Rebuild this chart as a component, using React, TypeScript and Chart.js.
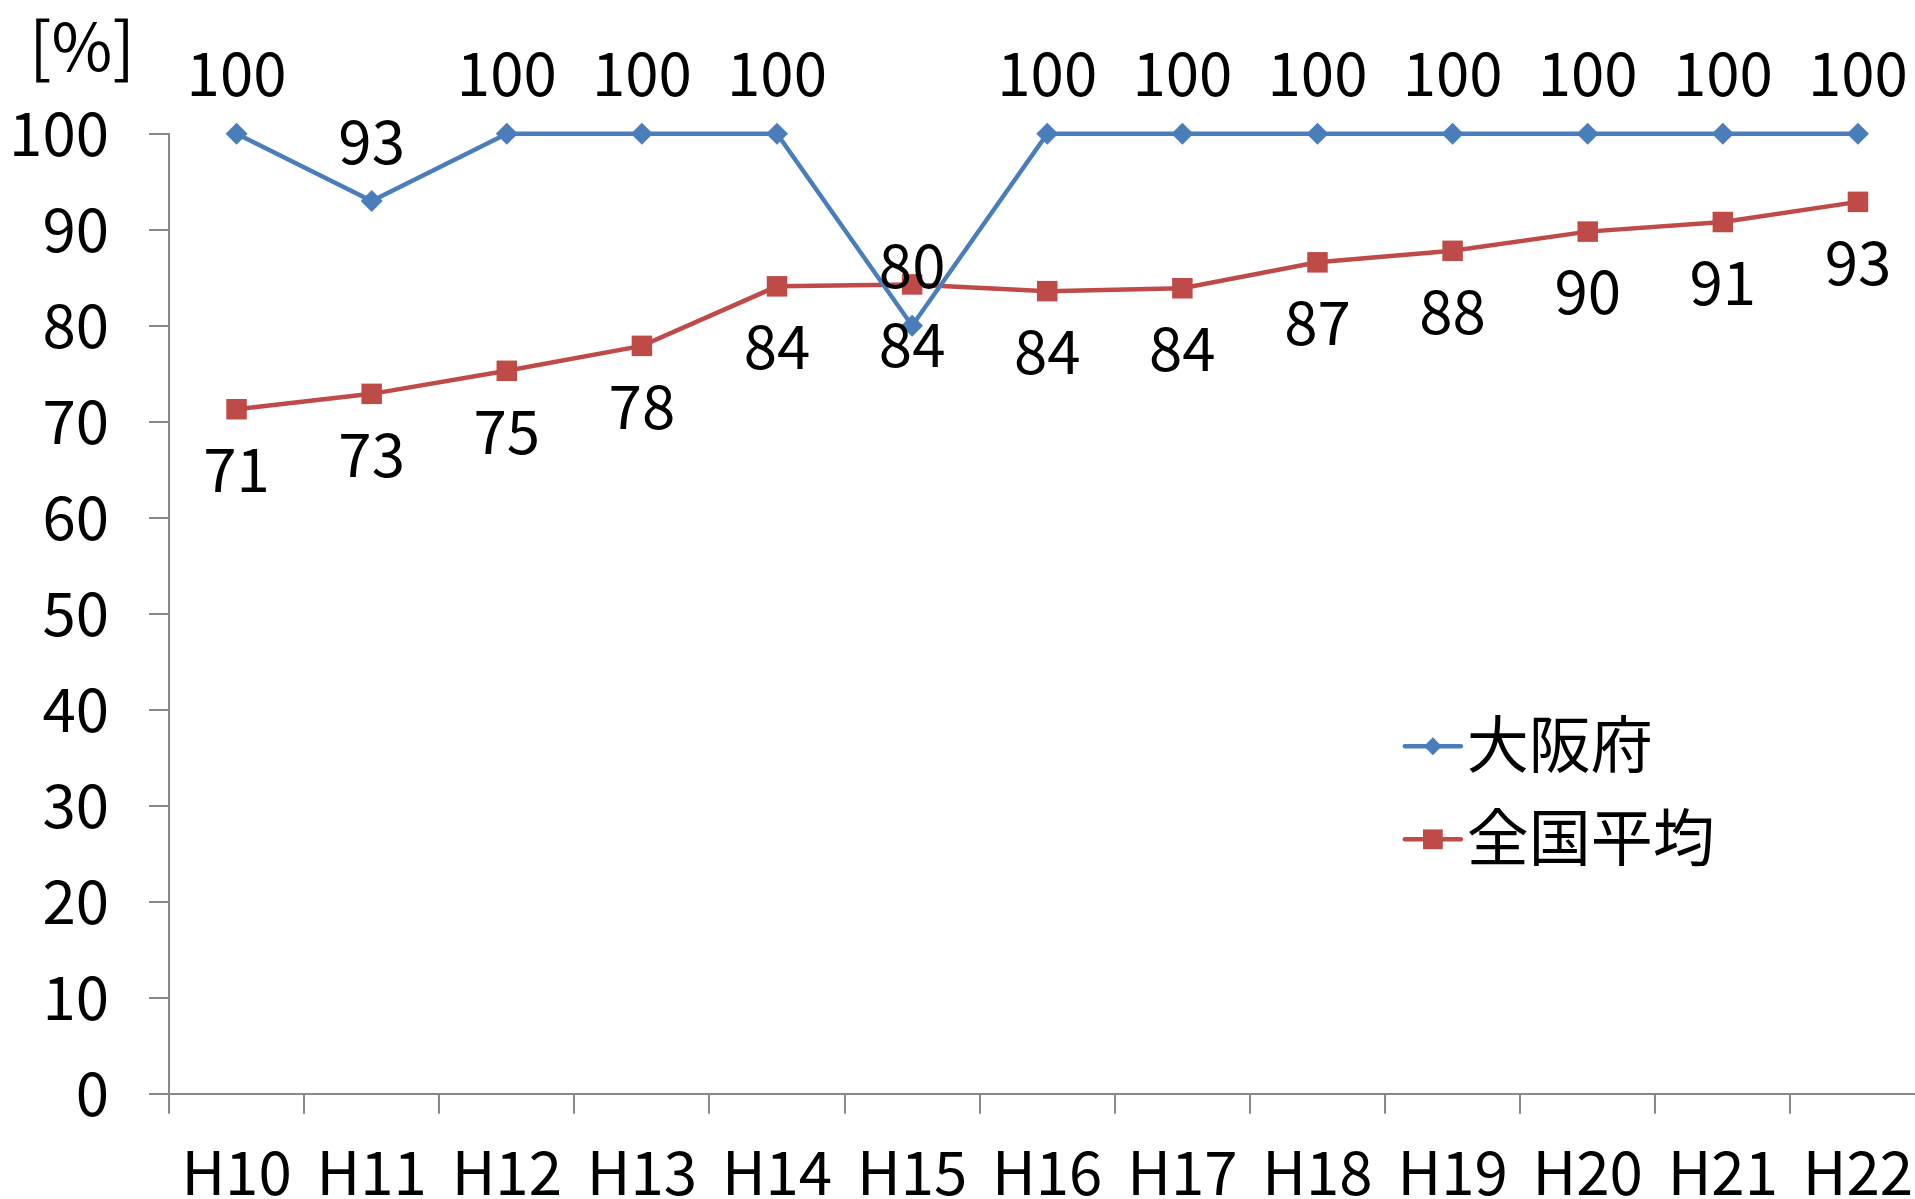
import { useEffect, useRef } from "react";
import { Chart, registerables } from "chart.js";

Chart.register(...registerables);

// Fiscal years (Heisei era)
const categories = ["H10", "H11", "H12", "H13", "H14", "H15", "H16", "H17", "H18", "H19", "H20", "H21", "H22"];
// Osaka Prefecture, %
const osakaValues = [100, 93, 100, 100, 100, 80, 100, 100, 100, 100, 100, 100, 100];
// National average, %
const nationalValues = [71.3, 72.9, 75.3, 77.9, 84.1, 84.3, 83.6, 83.9, 86.6, 87.8, 89.8, 90.8, 92.9];
const seriesNames = ["大阪府", "全国平均"];
const yTickValues = [0, 10, 20, 30, 40, 50, 60, 70, 80, 90, 100];
const unitLabel = "[%]";

const FONT = '"Noto Sans CJK JP", "Noto Sans", sans-serif';
const FONT_SIZE = 60;
const AXIS_COLOR = "#898989";
const BLUE = "#4A7EBB";
const RED = "#BE4B48";

// Label offset (px) from each series' point: Osaka above, national below
const labelOffsets = [-60, 60];
// Legend marker sizes per series
const legendMarkerRadius = [9, 14];

const dataLabelPlugin = {
  id: "dataLabels",
  afterDatasetsDraw(chart: any) {
    const ctx = chart.ctx;
    ctx.save();
    ctx.font = `${FONT_SIZE}px ${FONT}`;
    ctx.fillStyle = "#000";
    ctx.textAlign = "center";
    ctx.textBaseline = "middle";
    chart.data.datasets.forEach((ds: any, i: number) => {
      const meta = chart.getDatasetMeta(i);
      meta.data.forEach((pt: any, j: number) => {
        const v = ds.data[j];
        ctx.fillText(String(Math.round(v)), pt.x, pt.y + labelOffsets[i]);
      });
    });
    ctx.restore();
  },
};

function drawMarker(ctx: CanvasRenderingContext2D, style: string, x: number, y: number, r: number) {
  ctx.beginPath();
  if (style === "rectRot") {
    ctx.moveTo(x, y - r);
    ctx.lineTo(x + r, y);
    ctx.lineTo(x, y + r);
    ctx.lineTo(x - r, y);
  } else {
    const h = r * Math.SQRT1_2;
    ctx.rect(x - h, y - h, 2 * h, 2 * h);
  }
  ctx.closePath();
  ctx.fill();
}

const legendAndUnitPlugin = {
  id: "legendAndUnit",
  afterDraw(chart: any) {
    const ctx = chart.ctx;
    const area = chart.chartArea;
    ctx.save();
    ctx.fillStyle = "#000";
    ctx.textBaseline = "middle";

    // unit label above the value axis
    ctx.font = `66px ${FONT}`;
    ctx.textAlign = "center";
    ctx.fillText(unitLabel, area.left - 87, area.top - 88);

    // legend inside the plot
    ctx.font = `62px ${FONT}`;
    const x0 = area.left + area.width * 0.7036;
    const lineLen = 56;
    const rows = [area.top + area.height * 0.638, area.top + area.height * 0.735];
    ctx.textAlign = "left";
    chart.data.datasets.forEach((ds: any, i: number) => {
      const y = rows[i];
      ctx.strokeStyle = ds.borderColor;
      ctx.fillStyle = ds.borderColor;
      ctx.lineWidth = 4.5;
      ctx.lineCap = "round";
      ctx.beginPath();
      ctx.moveTo(x0, y);
      ctx.lineTo(x0 + lineLen, y);
      ctx.stroke();
      drawMarker(ctx, ds.pointStyle, x0 + lineLen / 2, y, legendMarkerRadius[i]);
      ctx.fillStyle = "#000";
      ctx.fillText(ds.label, x0 + lineLen + 6, y - 2);
    });
    ctx.restore();
  },
};

export default function App() {
  const canvasRef = useRef<HTMLCanvasElement | null>(null);

  useEffect(() => {
    const canvas = canvasRef.current;
    if (!canvas) return;
    const chart = new Chart(canvas, {
      type: "line",
      data: {
        labels: categories,
        datasets: [
          {
            label: seriesNames[0],
            data: osakaValues,
            borderColor: BLUE,
            backgroundColor: BLUE,
            borderWidth: 4.5,
            pointStyle: "rectRot",
            pointRadius: 11,
            pointBorderWidth: 0,
            pointBackgroundColor: BLUE,
            tension: 0,
            clip: false,
          },
          {
            label: seriesNames[1],
            data: nationalValues,
            borderColor: RED,
            backgroundColor: RED,
            borderWidth: 4.5,
            pointStyle: "rect",
            pointRadius: 14.5,
            pointBorderWidth: 0,
            pointBackgroundColor: RED,
            tension: 0,
            clip: false,
          },
        ],
      },
      options: {
        animation: false,
        responsive: true,
        maintainAspectRatio: false,
        events: [],
        layout: { padding: { top: 133.7, right: 11.4, left: 0, bottom: 0 } },
        plugins: {
          legend: { display: false },
          tooltip: { enabled: false },
          title: { display: false },
        },
        scales: {
          x: {
            type: "category",
            offset: true,
            grid: {
              offset: true,
              drawOnChartArea: false,
              drawTicks: true,
              tickLength: 20,
              color: AXIS_COLOR,
              lineWidth: 2,
            },
            border: { display: true, color: AXIS_COLOR, width: 2 },
            ticks: {
              color: "#000",
              font: { family: FONT, size: FONT_SIZE },
              padding: 23,
              maxRotation: 0,
              autoSkip: false,
            },
            afterFit(scale: any) {
              scale.height = 105.3;
            },
          },
          y: {
            min: 0,
            max: 100,
            afterBuildTicks(scale: any) {
              scale.ticks = yTickValues.map((v) => ({ value: v }));
            },
            grid: {
              drawOnChartArea: false,
              drawTicks: true,
              tickLength: 20,
              color: AXIS_COLOR,
              lineWidth: 2,
            },
            border: { display: true, color: AXIS_COLOR, width: 2 },
            ticks: {
              color: "#000",
              font: { family: FONT, size: FONT_SIZE },
              padding: 40,
            },
            afterFit(scale: any) {
              scale.width = 169;
            },
          },
        },
      },
      plugins: [dataLabelPlugin, legendAndUnitPlugin],
    });
    return () => chart.destroy();
  }, []);

  return (
    <div
      style={{
        position: "absolute",
        left: 0,
        top: 0,
        width: 1915,
        height: 1199,
        overflow: "hidden",
        background: "#fff",
      }}
    >
      <div style={{ position: "relative", width: 1940, height: 1199 }}>
        <canvas ref={canvasRef} />
      </div>
    </div>
  );
}
